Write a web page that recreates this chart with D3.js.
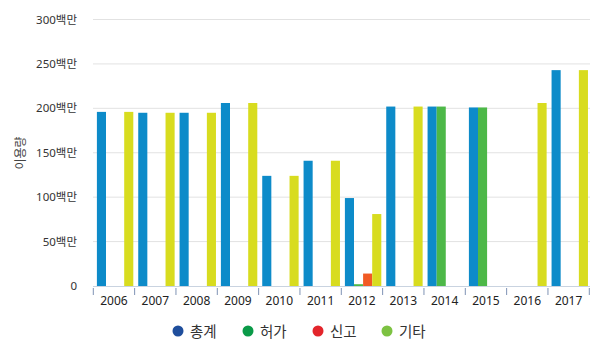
<!DOCTYPE html>
<html><head><meta charset="utf-8">
<script src="https://cdn.jsdelivr.net/npm/d3@7"></script>
<style>body{margin:0;background:#fff;}svg{display:block;font-family:"Noto Sans","Noto Sans CJK KR",sans-serif;}</style>
</head><body>
<svg id="c" width="600" height="353"></svg>
<script>
const years = ["2006","2007","2008","2009","2010","2011","2012","2013","2014","2015","2016","2017"];
const seriesNames = ["총계","허가","신고","기타"];
const totalVals  = [196,195,195,206,124,141,99,202,202,201,0,243];
const permitVals = [0,0,0,0,0,0,2,0,202,201,0,0];
const reportVals = [0,0,0,0,0,0,14,0,0,0,0,0];
const otherVals  = [196,195,195,206,124,141,81,202,0,0,206,243];
const yTicks = [0,50,100,150,200,250,300];
const barColors = ["#0d8bc9","#4db848","#f15a24","#d8dc1f"];
const legendColors = ["#1f4e9c","#0a9a48","#e3252b","#7dc242"];

const svg = d3.select("#c");
const x = d3.scaleBand().domain(years).range([93.3,589.3]);
const xi = d3.scaleBand().domain(seriesNames).range([3.6,40]).padding(0);
const y = d3.scaleLinear().domain([0,300]).range([286,19.5]);

// grid
svg.append("g").selectAll("line").data(yTicks.filter(d=>d>0)).join("line")
  .attr("x1",93).attr("x2",590).attr("y1",d=>y(d)).attr("y2",d=>y(d))
  .attr("stroke","#e2e2e2").attr("stroke-width",1);

// y labels
svg.append("g").selectAll("text").data(yTicks).join("text")
  .attr("x",77).attr("y",d=>y(d)+4).attr("text-anchor","end")
  .attr("font-size",11.5).attr("fill","#333")
  .text(d=>d===0?"0":d+"백만");

svg.append("text").attr("transform","translate(25,153) rotate(-90)")
  .attr("text-anchor","middle").attr("font-size",12).attr("fill","#444").text("이용량");

// bars
const all = [totalVals,permitVals,reportVals,otherVals];
all.forEach((vals,si)=>{
  svg.append("g").selectAll("rect").data(years.map((yr,i)=>({yr,v:vals[i]})).filter(d=>d.v>0)).join("rect")
    .attr("x",d=>x(d.yr)+xi(seriesNames[si]))
    .attr("width",xi.bandwidth())
    .attr("y",d=>y(d.v))
    .attr("height",d=>286-y(d.v))
    .attr("fill",barColors[si]);
});

// x axis
svg.append("line").attr("x1",93).attr("x2",590).attr("y1",286.5).attr("y2",286.5).attr("stroke","#c9d3e0");
svg.append("g").selectAll("line").data(years.concat(["end"])).join("line")
  .attr("x1",(d,i)=>93.3+i*x.bandwidth()).attr("x2",(d,i)=>93.3+i*x.bandwidth())
  .attr("y1",288).attr("y2",295).attr("stroke","#7f93b5");
svg.append("g").selectAll("text").data(years).join("text")
  .attr("x",d=>x(d)+x.bandwidth()/2).attr("y",305).attr("text-anchor","middle")
  .attr("font-size",12).attr("fill","#222").text(d=>d);

// legend
const lx = [178,248,318,387];
const lg = svg.append("g").selectAll("g").data(seriesNames).join("g")
  .attr("transform",(d,i)=>`translate(${lx[i]},331)`);
lg.append("circle").attr("r",5.5).attr("fill",(d,i)=>legendColors[i]);
lg.append("text").attr("x",12).attr("y",5.5).attr("font-size",14.5).attr("fill","#333").text(d=>d);
</script>
</body></html>
